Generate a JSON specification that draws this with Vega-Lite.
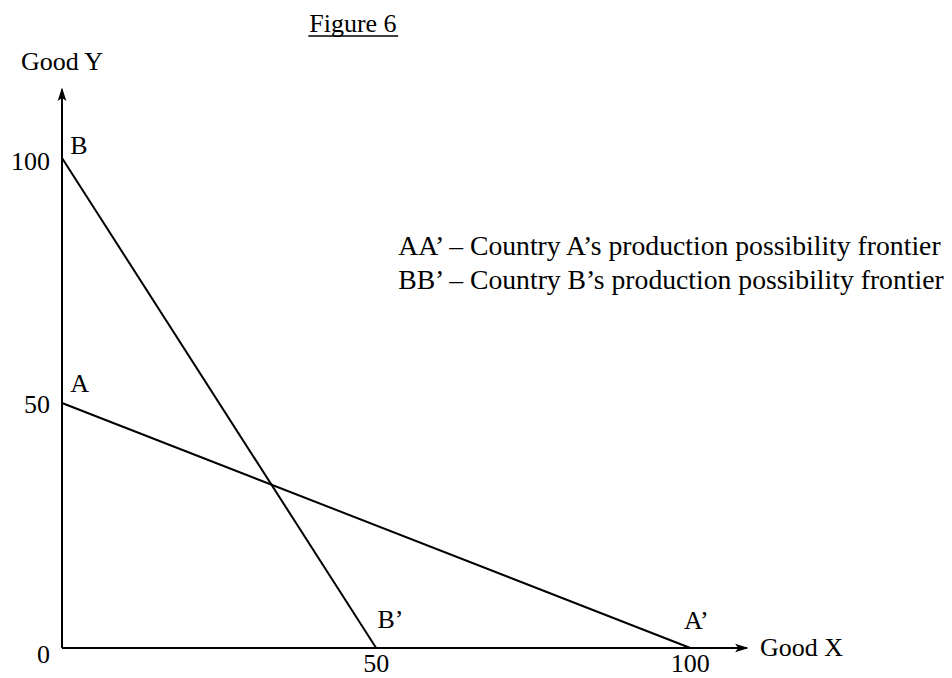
{
  "$schema": "https://vega.github.io/schema/vega-lite/v6.json",
  "width": 754,
  "height": 588,
  "autosize": {"type": "none"},
  "padding": {"left": 62, "top": 60, "right": 136, "bottom": 30},
  "background": "white",
  "config": {"view": {"stroke": null}},
  "datasets": {
    "frontiers": [
      {"country": "A", "x": 0, "y": 50},
      {"country": "A", "x": 100, "y": 0},
      {"country": "B", "x": 0, "y": 100},
      {"country": "B", "x": 50, "y": 0}
    ],
    "axisLines": [
      {"axis": "x", "x": 0, "y": 0, "x2": 109, "y2": 0},
      {"axis": "y", "x": 0, "y": 0, "x2": 0, "y2": 114}
    ],
    "xArrow": [{"x": 108.2, "y": 0}],
    "yArrow": [{"x": 0, "y": 113.0}],
    "pointLabels": [
      {"label": "B", "x": 1.3, "y": 102.4},
      {"label": "A", "x": 1.3, "y": 53.9},
      {"label": "B’", "x": 50.2, "y": 5.7},
      {"label": "A’", "x": 99.0, "y": 5.5}
    ],
    "yTicks": [
      {"label": "100", "x": -1.9, "y": 99.2},
      {"label": "50", "x": -1.9, "y": 49.6},
      {"label": "0", "x": -1.9, "y": -1.4}
    ],
    "xTicks": [
      {"label": "50", "x": 50, "y": -3.3},
      {"label": "100", "x": 100, "y": -3.3}
    ],
    "xTitle": [{"label": "Good X", "x": 111.1, "y": 0}],
    "yTitle": [{"label": "Good Y", "x": 0, "y": 119.6}],
    "figTitle": [{"label": "Figure 6", "x": 46.3, "y": 127.3}],
    "figUnderline": [{"x": 39.2, "x2": 53.5, "y": 124.9}],
    "legend": [
      {"label": "AA’ – Country A’s production possibility frontier", "x": 53.5, "y": 81.8},
      {"label": "BB’ – Country B’s production possibility frontier", "x": 53.5, "y": 74.9}
    ]
  },
  "layer": [
    {
      "data": {"name": "frontiers"},
      "mark": {"type": "line", "color": "black", "strokeWidth": 2, "clip": false},
      "encoding": {
        "x": {"field": "x", "type": "quantitative", "scale": {"domain": [0, 120], "nice": false, "zero": false}, "axis": null},
        "y": {"field": "y", "type": "quantitative", "scale": {"domain": [0, 120], "nice": false, "zero": false}, "axis": null},
        "detail": {"field": "country"}
      }
    },
    {
      "data": {"name": "axisLines"},
      "mark": {"type": "rule", "color": "black", "strokeWidth": 2, "clip": false},
      "encoding": {
        "x": {"field": "x", "type": "quantitative"},
        "y": {"field": "y", "type": "quantitative"},
        "x2": {"field": "x2"},
        "y2": {"field": "y2"}
      }
    },
    {
      "data": {"name": "xArrow"},
      "mark": {"type": "point", "shape": "M1,0 L-1,-0.65 L-0.55,0 L-1,0.65 Z", "filled": true, "color": "black", "opacity": 1, "size": 180, "clip": false},
      "encoding": {
        "x": {"field": "x", "type": "quantitative"},
        "y": {"field": "y", "type": "quantitative"}
      }
    },
    {
      "data": {"name": "yArrow"},
      "mark": {"type": "point", "shape": "M0,-1 L-0.65,1 L0,0.55 L0.65,1 Z", "filled": true, "color": "black", "opacity": 1, "size": 180, "clip": false},
      "encoding": {
        "x": {"field": "x", "type": "quantitative"},
        "y": {"field": "y", "type": "quantitative"}
      }
    },
    {
      "data": {"name": "pointLabels"},
      "mark": {"type": "text", "align": "left", "baseline": "middle", "font": "Liberation Serif", "fontSize": 26, "color": "black", "clip": false},
      "encoding": {
        "x": {"field": "x", "type": "quantitative"},
        "y": {"field": "y", "type": "quantitative"},
        "text": {"field": "label"}
      }
    },
    {
      "data": {"name": "yTicks"},
      "mark": {"type": "text", "align": "right", "baseline": "middle", "font": "Liberation Serif", "fontSize": 26, "color": "black", "clip": false},
      "encoding": {
        "x": {"field": "x", "type": "quantitative"},
        "y": {"field": "y", "type": "quantitative"},
        "text": {"field": "label"}
      }
    },
    {
      "data": {"name": "xTicks"},
      "mark": {"type": "text", "align": "center", "baseline": "middle", "font": "Liberation Serif", "fontSize": 26, "color": "black", "clip": false},
      "encoding": {
        "x": {"field": "x", "type": "quantitative"},
        "y": {"field": "y", "type": "quantitative"},
        "text": {"field": "label"}
      }
    },
    {
      "data": {"name": "xTitle"},
      "mark": {"type": "text", "align": "left", "baseline": "middle", "font": "Liberation Serif", "fontSize": 26, "color": "black", "clip": false},
      "encoding": {
        "x": {"field": "x", "type": "quantitative"},
        "y": {"field": "y", "type": "quantitative"},
        "text": {"field": "label"}
      }
    },
    {
      "data": {"name": "yTitle"},
      "mark": {"type": "text", "align": "center", "baseline": "middle", "font": "Liberation Serif", "fontSize": 26, "color": "black", "clip": false},
      "encoding": {
        "x": {"field": "x", "type": "quantitative"},
        "y": {"field": "y", "type": "quantitative"},
        "text": {"field": "label"}
      }
    },
    {
      "data": {"name": "figTitle"},
      "mark": {"type": "text", "align": "center", "baseline": "middle", "font": "Liberation Serif", "fontSize": 26, "color": "black", "clip": false},
      "encoding": {
        "x": {"field": "x", "type": "quantitative"},
        "y": {"field": "y", "type": "quantitative"},
        "text": {"field": "label"}
      }
    },
    {
      "data": {"name": "figUnderline"},
      "mark": {"type": "rule", "color": "black", "strokeWidth": 1.5, "clip": false},
      "encoding": {
        "x": {"field": "x", "type": "quantitative"},
        "x2": {"field": "x2"},
        "y": {"field": "y", "type": "quantitative"}
      }
    },
    {
      "data": {"name": "legend"},
      "mark": {"type": "text", "align": "left", "baseline": "middle", "font": "Liberation Serif", "fontSize": 27.7, "color": "black", "clip": false},
      "encoding": {
        "x": {"field": "x", "type": "quantitative"},
        "y": {"field": "y", "type": "quantitative"},
        "text": {"field": "label"}
      }
    }
  ]
}
